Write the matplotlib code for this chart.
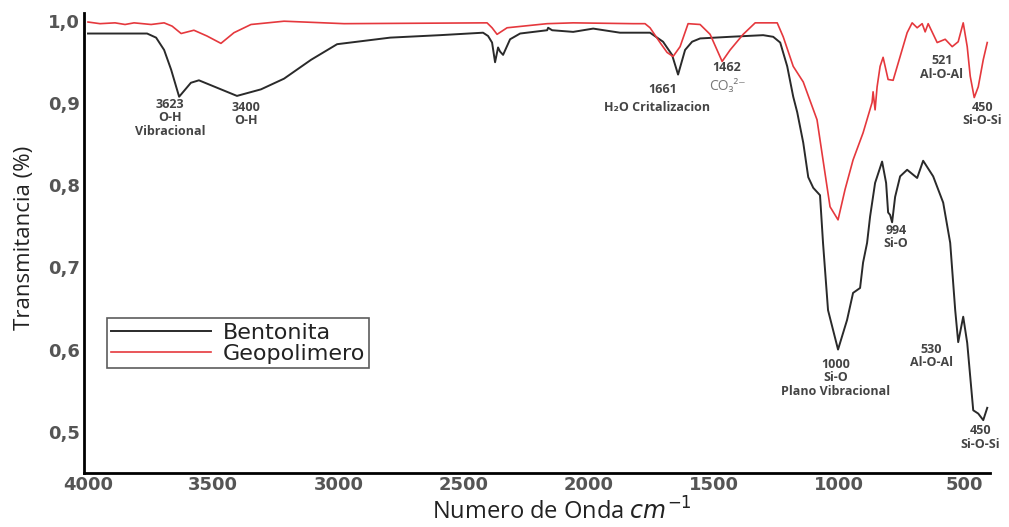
import matplotlib
matplotlib.use("Agg")
import matplotlib.pyplot as plt
from matplotlib.ticker import FuncFormatter, FixedLocator

# ---- data (wavenumber cm^-1, transmittance) ----
bent_wn = [4000, 3764, 3728, 3696, 3668, 3636, 3589, 3557, 3405, 3309, 3217, 3109, 3005,
           2793, 2594, 2422, 2402, 2386, 2374, 2362, 2354, 2342, 2314, 2274, 2166, 2162,
           2146, 2062, 1982, 1875, 1755, 1703, 1667, 1643, 1615, 1587, 1555, 1435, 1303,
           1263, 1235, 1207, 1183, 1167, 1143, 1123, 1103, 1076, 1064, 1044, 1004, 968,
           944, 916, 904, 888, 876, 856, 828, 812, 804, 796, 788, 776, 756, 728, 704,
           688, 664, 624, 584, 556, 536, 524, 504, 488, 476, 464, 444, 424, 408]
bent_t = [0.985, 0.985, 0.980, 0.965, 0.941, 0.908, 0.925, 0.928, 0.909, 0.917, 0.930,
          0.953, 0.972, 0.980, 0.983, 0.986, 0.982, 0.974, 0.950, 0.968, 0.963, 0.959,
          0.978, 0.985, 0.989, 0.992, 0.989, 0.987, 0.991, 0.986, 0.986, 0.975, 0.959,
          0.935, 0.965, 0.975, 0.979, 0.981, 0.983, 0.981, 0.974, 0.945, 0.908, 0.889,
          0.852, 0.810, 0.797, 0.788, 0.730, 0.648, 0.600, 0.636, 0.669, 0.675, 0.706,
          0.730, 0.762, 0.803, 0.829, 0.803, 0.767, 0.764, 0.755, 0.786, 0.811, 0.819,
          0.813, 0.809, 0.830, 0.811, 0.779, 0.730, 0.648, 0.609, 0.640, 0.608, 0.567,
          0.526, 0.522, 0.514, 0.529]

geo_wn = [4000, 3952, 3892, 3852, 3816, 3748, 3696, 3664, 3628, 3577, 3525, 3469, 3417,
          3349, 3217, 2977, 2406, 2386, 2366, 2346, 2326, 2166, 2062, 1823, 1775, 1755,
          1715, 1687, 1663, 1635, 1603, 1555, 1515, 1467, 1435, 1383, 1335, 1247, 1223,
          1183, 1143, 1088, 1064, 1036, 1004, 976, 944, 904, 868, 864, 856, 848, 836,
          824, 804, 784, 756, 728, 708, 688, 668, 656, 644, 608, 576, 548, 524, 504,
          488, 476, 460, 444, 424, 408]
geo_t = [0.999, 0.997, 0.998, 0.996, 0.998, 0.996, 0.998, 0.994, 0.985, 0.989, 0.982,
         0.973, 0.986, 0.996, 1.000, 0.997, 0.998, 0.992, 0.984, 0.988, 0.992, 0.997,
         0.998, 0.997, 0.997, 0.992, 0.974, 0.962, 0.957, 0.969, 0.997, 0.996, 0.984,
         0.951, 0.965, 0.984, 0.998, 0.998, 0.981, 0.945, 0.926, 0.880, 0.831, 0.774,
         0.758, 0.795, 0.831, 0.864, 0.901, 0.914, 0.892, 0.920, 0.945, 0.956, 0.929,
         0.928, 0.957, 0.986, 0.998, 0.992, 0.997, 0.987, 0.997, 0.974, 0.978, 0.969,
         0.975, 0.998, 0.969, 0.933, 0.907, 0.920, 0.953, 0.974]

series_labels = ["Bentonita", "Geopolimero"]
x_ticks = [4000, 3500, 3000, 2500, 2000, 1500, 1000, 500]
y_ticks = [0.5, 0.6, 0.7, 0.8, 0.9, 1.0]

# annotations: (text, wavenumber, transmittance, ha)
ann_texts = ["3623\nO-H\nVibracional", "3400\nO-H", "1661", "H\u2082O Critalizacion",
             "1462", "521\nAl-O-Al", "450\nSi-O-Si", "994\nSi-O",
             "1000\nSi-O\nPlano Vibracional", "530\nAl-O-Al", "450\nSi-O-Si"]
ann_wn = [3672, 3425, 1703, 1727, 1447, 590, 428, 772, 1012, 632, 436]
ann_t = [0.907, 0.903, 0.925, 0.903, 0.952, 0.960, 0.903, 0.753, 0.590, 0.608, 0.509]
ann_ha = ["center", "left", "center", "center", "center", "center", "center", "center",
          "center", "center", "center"]

# ---- figure ----
fig = plt.figure(figsize=(10.09, 5.27), dpi=100)
ax = fig.add_axes([84 / 1009, 54 / 527, 906 / 1009, 460 / 527])

ax.plot(bent_wn, bent_t, color="#2a2a2a", lw=1.4, label=series_labels[0])
ax.plot(geo_wn, geo_t, color="#e5383d", lw=1.2, label=series_labels[1])

ax.set_xlim(4016, 397)
ax.set_ylim(0.4496, 1.01)

for s in ["top", "right"]:
    ax.spines[s].set_visible(False)
for s in ["left", "bottom"]:
    ax.spines[s].set_linewidth(2.0)
    ax.spines[s].set_color("black")

ax.xaxis.set_major_locator(FixedLocator(x_ticks))
ax.yaxis.set_major_locator(FixedLocator(y_ticks))
ax.yaxis.set_major_formatter(FuncFormatter(lambda v, p: f"{v:.1f}".replace(".", ",")))
ax.xaxis.set_major_formatter(FuncFormatter(lambda v, p: f"{int(v)}"))
ax.tick_params(axis="both", length=0, labelsize=13, labelcolor="#555555")
ax.tick_params(axis="x", pad=2)
ax.tick_params(axis="y", pad=3)
for lbl in ax.get_xticklabels() + ax.get_yticklabels():
    lbl.set_fontfamily("DejaVu Sans")
    lbl.set_fontweight("bold")

fig.text(562 / 1009, 1 - 512 / 527, "Numero de Onda $cm^{-1}$", ha="center", va="center",
         fontsize=17, family="Open Sans", color="#222222")
fig.text(25 / 1009, 1 - 238 / 527, "Transmitancia (%)", rotation=90, ha="center",
         va="center", fontsize=16, family="Open Sans", color="#222222")

for txt, wn, t, ha in zip(ann_texts, ann_wn, ann_t, ann_ha):
    ax.text(wn, t, txt, ha=ha, va="top", fontsize=9, fontweight="bold",
            family=["Open Sans", "DejaVu Sans"], color="#444444",
            linespacing=1.05, clip_on=False, multialignment="center")

ax.text(1447, 0.921, "CO\u2083\u00b2\u207b", ha="center", va="center", fontsize=10,
        family=["Open Sans", "DejaVu Sans"], color="#777777")

leg = ax.legend(loc="lower left", bbox_to_anchor=(0.0254, 0.228), borderaxespad=0,
                prop={"family": "DejaVu Sans", "size": 16}, frameon=True,
                fancybox=False, handlelength=4.5, handletextpad=0.5, labelspacing=0.05,
                borderpad=0.2)
leg.get_frame().set_edgecolor("#333333")
leg.get_frame().set_linewidth(1.2)
for t in leg.get_texts():
    t.set_color("#222222")

fig.savefig("out.png", dpi=100)
